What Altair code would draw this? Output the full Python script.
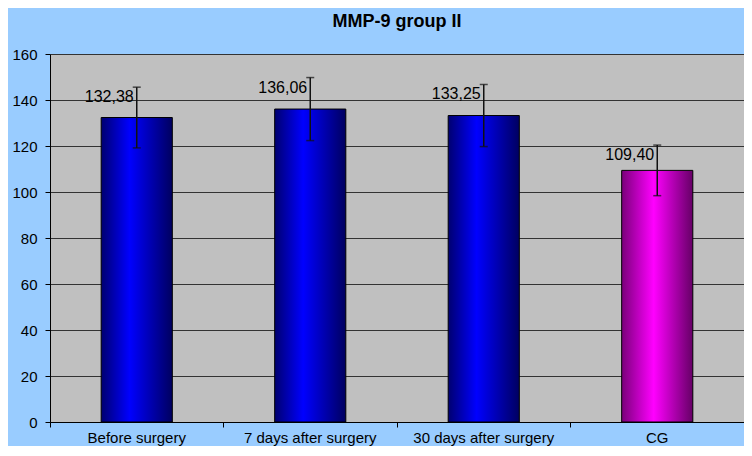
import altair as alt
import pandas as pd

categories = ["Before surgery", "7 days after surgery", "30 days after surgery", "CG"]
means = [132.38, 136.06, 133.25, 109.40]
sds = [13.2, 13.7, 13.5, 11.0]
labels = ["132,38", "136,06", "133,25", "109,40"]
y_ticks = [0, 20, 40, 60, 80, 100, 120, 140, 160]

df = pd.DataFrame({
    "cat": categories,
    "mean": means,
    "lo": [m - s for m, s in zip(means, sds)],
    "hi": [m + s for m, s in zip(means, sds)],
    "label": labels,
})

FONT = "Liberation Sans"

x_enc = alt.X(
    "cat:N", sort=categories, title=None,
    scale=alt.Scale(paddingInner=0, paddingOuter=0),
    axis=alt.Axis(labelAngle=0, bandPosition=0, tickSize=5, labelPadding=3,
                  labelFontSize=15, labelFont=FONT, labelColor="black",
                  domainColor="black", tickColor="black", grid=False),
)
y_scale = alt.Scale(domain=[0, 160])
y_axis = alt.Axis(values=y_ticks, grid=True, gridColor="#333333", gridWidth=1,
                  tickSize=5, labelPadding=8, labelFontSize=15, labelFont=FONT,
                  labelColor="black", domainColor="black", tickColor="black")

blue_grad = alt.Gradient(
    gradient="linear", x1=0, y1=0, x2=1, y2=0,
    stops=[alt.GradientStop(offset=0, color="#000070"),
           alt.GradientStop(offset=0.4, color="#0000FF"),
           alt.GradientStop(offset=1, color="#000060")],
)
mag_grad = alt.Gradient(
    gradient="linear", x1=0, y1=0, x2=1, y2=0,
    stops=[alt.GradientStop(offset=0, color="#7A007A"),
           alt.GradientStop(offset=0.45, color="#FF00FF"),
           alt.GradientStop(offset=1, color="#660066")],
)

base = alt.Chart(df)

bars_blue = base.transform_filter(alt.datum.cat != "CG").mark_bar(
    fill=blue_grad, stroke="black", strokeWidth=1, width=alt.RelativeBandSize(0.41)
).encode(x=x_enc, y=alt.Y("mean:Q", scale=y_scale, axis=y_axis, title=None))

bars_mag = base.transform_filter(alt.datum.cat == "CG").mark_bar(
    fill=mag_grad, stroke="black", strokeWidth=1, width=alt.RelativeBandSize(0.41)
).encode(x=x_enc, y=alt.Y("mean:Q", scale=y_scale, title=None))

err = base.mark_rule(color="#111111", strokeWidth=1.5).encode(
    x=x_enc, y=alt.Y("lo:Q", scale=y_scale), y2="hi:Q")

cap_hi = base.mark_tick(color="#111111", size=8, thickness=1.5).encode(
    x=x_enc, y=alt.Y("hi:Q", scale=y_scale))
cap_lo = base.mark_tick(color="#111111", size=8, thickness=1.5).encode(
    x=x_enc, y=alt.Y("lo:Q", scale=y_scale))

txt = base.mark_text(align="right", baseline="top", dx=-3, dy=2, fontSize=16,
                     font=FONT, color="black").encode(
    x=x_enc, y=alt.Y("hi:Q", scale=y_scale), text="label:N")

chart = alt.layer(bars_blue, bars_mag, err, cap_hi, cap_lo, txt).properties(
    width=694, height=368,
    title=alt.TitleParams("MMP-9 group II", fontSize=18, fontWeight="bold",
                          font=FONT, color="black", offset=16, anchor="middle"),
    autosize=alt.AutoSizeParams(type="none"),
    padding={"left": 42, "top": 46, "right": 0, "bottom": 24},
    background="#99CCFF",
).configure_view(fill="#C0C0C0", strokeOpacity=0)

chart.save("out.html", embed_options={"renderer": "svg", "actions": False})
